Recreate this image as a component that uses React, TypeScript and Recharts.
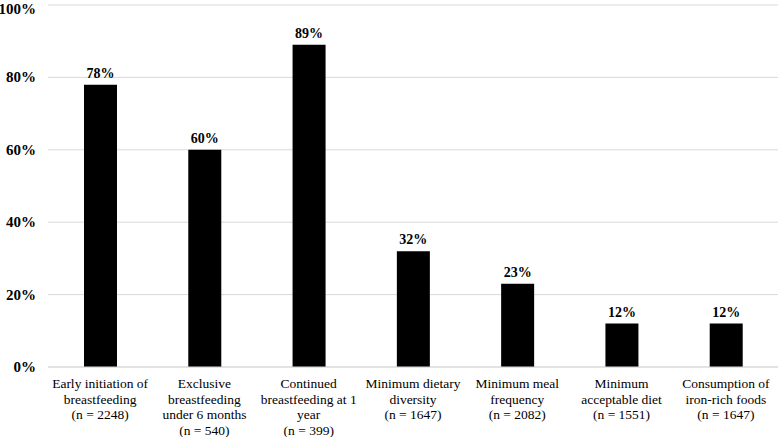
import { Bar, BarChart, CartesianGrid, LabelList, XAxis, YAxis } from 'recharts';

const categories = ['early', 'exclusive', 'continued', 'diversity', 'frequency', 'acceptable', 'iron'];
const categoryLines = [
  ['Early initiation of', 'breastfeeding', '(n = 2248)'],
  ['Exclusive', 'breastfeeding', 'under 6 months', '(n = 540)'],
  ['Continued', 'breastfeeding at 1', 'year', '(n = 399)'],
  ['Minimum dietary', 'diversity', '(n = 1647)'],
  ['Minimum meal', 'frequency', '(n = 2082)'],
  ['Minimum', 'acceptable diet', '(n = 1551)'],
  ['Consumption of', 'iron-rich foods', '(n = 1647)'],
];
const percents = [78, 60, 89, 32, 23, 12, 12];
const yTicks = [0, 20, 40, 60, 80, 100];

const data = categories.map((key, i) => ({ key, value: percents[i] }));

const SERIF = "'Liberation Serif', 'Times New Roman', serif";

function CategoryTick({ x, y, payload }: any) {
  const lines = categoryLines[categories.indexOf(payload.value)] || [];
  return (
    <text x={x} y={y} textAnchor="middle" fontFamily={SERIF} fontSize={13.5} fill="#000">
      {lines.map((l, i) => (
        <tspan key={i} x={x} dy={i === 0 ? 13 : 15.5}>
          {l}
        </tspan>
      ))}
    </text>
  );
}

function PercentTick({ y, payload }: any) {
  return (
    <text x={36} y={y} dy={5} textAnchor="end" fontFamily={SERIF} fontWeight="bold" fontSize={15} fill="#000">
      {payload.value}%
    </text>
  );
}

function ValueLabel({ x, y, width, value }: any) {
  return (
    <text x={x + width / 2} y={y - 7} textAnchor="middle" fontFamily={SERIF} fontWeight="bold" fontSize={14} fill="#000">
      {value}%
    </text>
  );
}

export default function App() {
  return (
    <div style={{ position: 'absolute', left: 0, top: 0, background: '#fff' }}>
      <BarChart width={778} height={437} data={data} margin={{ top: 5, right: 0, bottom: 0, left: 0 }}>
        <CartesianGrid vertical={false} stroke="#d9d9d9" />
        <YAxis
          width={48}
          domain={[0, 100]}
          ticks={yTicks}
          axisLine={false}
          tickLine={false}
          tick={PercentTick}
        />
        <XAxis
          dataKey="key"
          height={70}
          interval={0}
          axisLine={{ stroke: '#d9d9d9' }}
          tickLine={false}
          tick={CategoryTick}
        />
        <Bar dataKey="value" fill="#000" barSize={33} isAnimationActive={false}>
          <LabelList dataKey="value" content={ValueLabel} />
        </Bar>
      </BarChart>
    </div>
  );
}
